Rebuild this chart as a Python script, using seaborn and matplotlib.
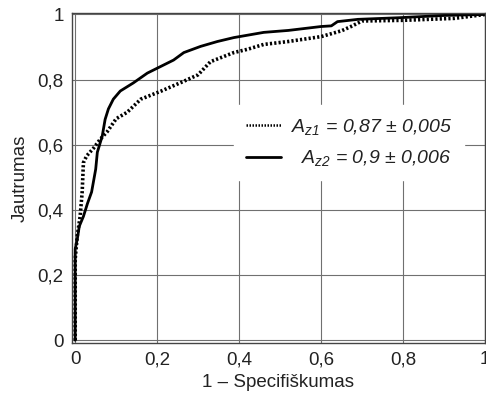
import pandas as pd
import matplotlib
matplotlib.use("Agg")
import matplotlib.pyplot as plt
import seaborn as sns

# ROC curves
fpr_az1 = [0, 0, 0.005, 0.012, 0.017, 0.02, 0.028, 0.045, 0.061, 0.078, 0.10, 0.127,
           0.16, 0.21, 0.265, 0.30, 0.33, 0.387, 0.42, 0.46, 0.52, 0.60, 0.65, 0.673,
           0.70, 0.80, 0.925, 1.0]
tpr_az1 = [0, 0.25, 0.32, 0.38, 0.455, 0.545, 0.566, 0.59, 0.617, 0.64, 0.68, 0.70,
           0.74, 0.765, 0.795, 0.815, 0.855, 0.883, 0.893, 0.908, 0.917, 0.932, 0.95,
           0.963, 0.98, 0.982, 0.988, 1.0]

fpr_az2 = [0, 0, 0.005, 0.01, 0.02, 0.03, 0.04, 0.05, 0.054, 0.066, 0.073, 0.081,
           0.093, 0.11, 0.142, 0.176, 0.208, 0.24, 0.265, 0.306, 0.347, 0.387, 0.46,
           0.52, 0.60, 0.625, 0.64, 0.69, 0.79, 0.90, 1.0]
tpr_az2 = [0, 0.28, 0.31, 0.35, 0.38, 0.42, 0.455, 0.525, 0.577, 0.627, 0.678, 0.71,
           0.74, 0.765, 0.79, 0.82, 0.84, 0.86, 0.883, 0.902, 0.917, 0.929, 0.945,
           0.951, 0.963, 0.965, 0.978, 0.985, 0.99, 0.997, 1.0]

labels = ["$A_{z1}$ = 0,87 ± 0,005", "  $A_{z2}$ = 0,9 ± 0,006"]
ticks = [0, 0.2, 0.4, 0.6, 0.8, 1]
tick_labels = ["0", "0,2", "0,4", "0,6", "0,8", "1"]

sns.set_style("white")
plt.rcParams["font.family"] = ["Liberation Sans", "DejaVu Sans"]
plt.rcParams["mathtext.fontset"] = "custom"
plt.rcParams["mathtext.rm"] = "Liberation Sans:italic"
plt.rcParams["mathtext.it"] = "Liberation Sans:italic"

fig = plt.figure(figsize=(4.86, 4.01), dpi=100)
ax = fig.add_axes([0.148, 0.145, 0.85, 0.823])

df1 = pd.DataFrame({"x": fpr_az1, "y": tpr_az1})
df2 = pd.DataFrame({"x": fpr_az2, "y": tpr_az2})
sns.lineplot(data=df1, x="x", y="y", sort=False, estimator=None, ax=ax,
             color="black", lw=2.6, linestyle=(0, (0.6, 0.6)), label=labels[0])
sns.lineplot(data=df2, x="x", y="y", sort=False, estimator=None, ax=ax,
             color="black", lw=2.0, label=labels[1])

ax.set_xlim(-0.008, 1.0)
ax.set_ylim(-0.008, 1.005)
ax.set_xticks(ticks)
ax.set_xticklabels(tick_labels)
ax.set_yticks(ticks)
ax.set_yticklabels(tick_labels)
ax.tick_params(length=0, labelsize=13.5, pad=6, colors="#222222")
ax.grid(True, color="#707070", lw=0.8)
for s in ax.spines.values():
    s.set_color("#444444")
    s.set_linewidth(1.0)

ax.set_xlabel("1 – Specifiškumas", fontsize=13.5, color="#222222", labelpad=4)
ax.set_ylabel("Jautrumas", fontsize=13.5, color="#222222", labelpad=6)

leg = ax.legend(loc="upper left", bbox_to_anchor=(0.37, 0.75), frameon=True,
                framealpha=1, edgecolor="white", fancybox=False,
                prop={"style": "italic", "size": 14}, handlelength=1.8,
                handletextpad=0.5, labelspacing=0.6, borderpad=0.6)
leg.get_lines()[0].set_linewidth(1.8)
for t in leg.get_texts():
    t.set_color("#222222")

fig.savefig("out.png", dpi=100)
